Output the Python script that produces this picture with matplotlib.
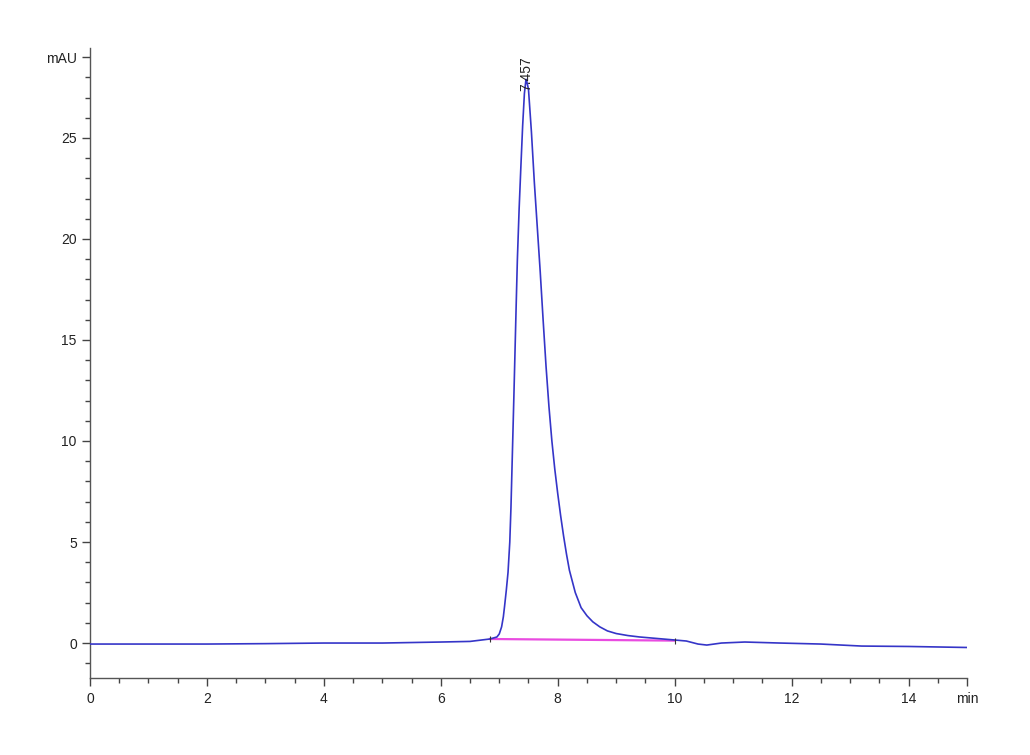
import matplotlib
matplotlib.use("Agg")
import matplotlib.pyplot as plt
from matplotlib.ticker import MultipleLocator, FixedLocator, FixedFormatter

plt.rcParams['font.family'] = ['Liberation Sans', 'DejaVu Sans']

# Chromatogram trace (time in min, absorbance in mAU)
time_min = [0.0, 1.0, 2.0, 3.0, 4.0, 5.0, 6.0, 6.5, 6.84, 6.96, 7.00, 7.04, 7.07,
            7.09, 7.12, 7.15, 7.18, 7.20, 7.23, 7.25, 7.27, 7.29, 7.31, 7.34,
            7.37, 7.40, 7.43, 7.457, 7.47, 7.50, 7.55, 7.60, 7.65, 7.70, 7.75,
            7.80, 7.85, 7.90, 7.95, 8.00, 8.05, 8.10, 8.15, 8.20, 8.30, 8.40,
            8.50, 8.60, 8.72, 8.85, 9.0, 9.2, 9.4, 9.6, 9.8, 10.0,
            10.2, 10.4, 10.55, 10.8, 11.2, 11.8, 12.5, 13.2, 14.0, 15.0]
signal_mau = [-0.05, -0.05, -0.05, -0.03, 0.0, 0.0, 0.05, 0.08, 0.2, 0.3, 0.45, 0.8, 1.3,
              1.8, 2.6, 3.5, 5.0, 6.7, 10.0, 12.2, 14.5, 16.8, 19.0, 21.5,
              23.6, 25.6, 27.2, 27.9, 27.8, 27.4, 25.3, 22.8, 20.6, 18.4, 16.0,
              13.7, 11.7, 10.0, 8.6, 7.4, 6.3, 5.3, 4.4, 3.6, 2.5, 1.75,
              1.35, 1.05, 0.8, 0.6, 0.47, 0.37, 0.3, 0.25, 0.2, 0.15,
              0.1, -0.05, -0.1, 0.0, 0.05, 0.0, -0.05, -0.15, -0.17, -0.22]

# Integration baseline
baseline_t = [6.84, 10.0]
baseline_v = [0.2, 0.12]

peak_rt = 7.457
peak_height = 27.9
peak_label = "7.457"

x_ticks = [0, 2, 4, 6, 8, 10, 12, 14, 15]
x_labels = ["0", "2", "4", "6", "8", "10", "12", "14", "min"]
y_ticks = [0, 5, 10, 15, 20, 25, 29]
y_labels = ["0", "5", "10", "15", "20", "25", "mAU"]

fig = plt.figure(figsize=(10.3, 7.55), dpi=100)
ax = fig.add_axes([0.0874, 0.102, 0.8514, 0.8344])

ax.plot(baseline_t, baseline_v, color='#e94be0', lw=1.6, zorder=2)
ax.plot(time_min, signal_mau, color='#3535c8', lw=1.2, zorder=3)
ax.plot(baseline_t, baseline_v, linestyle='none', marker='|', color='#333333',
        markersize=5, markeredgewidth=0.8, zorder=4)

ax.text(peak_rt, peak_height - 0.6, peak_label, rotation=90, ha='center', va='bottom',
        fontsize=10, color='#222222')

ax.set_xlim(0, 15)
ax.set_ylim(-1.73, 29.45)

ax.xaxis.set_major_locator(FixedLocator(x_ticks))
ax.xaxis.set_major_formatter(FixedFormatter(x_labels))
ax.xaxis.set_minor_locator(MultipleLocator(0.5))
ax.yaxis.set_major_locator(FixedLocator(y_ticks))
ax.yaxis.set_major_formatter(FixedFormatter(y_labels))
ax.yaxis.set_minor_locator(MultipleLocator(1))

for side in ['top', 'right']:
    ax.spines[side].set_visible(False)
for side in ['left', 'bottom']:
    ax.spines[side].set_color('#555555')
    ax.spines[side].set_linewidth(1.0)

ax.tick_params(which='major', direction='out', length=6, width=1.0, color='#444444',
               labelsize=10, labelcolor='#222222')
ax.tick_params(which='minor', direction='out', length=3.5, width=1.0, color='#444444')
ax.tick_params(axis='x', pad=4)

fig.savefig("out.png", dpi=100)
